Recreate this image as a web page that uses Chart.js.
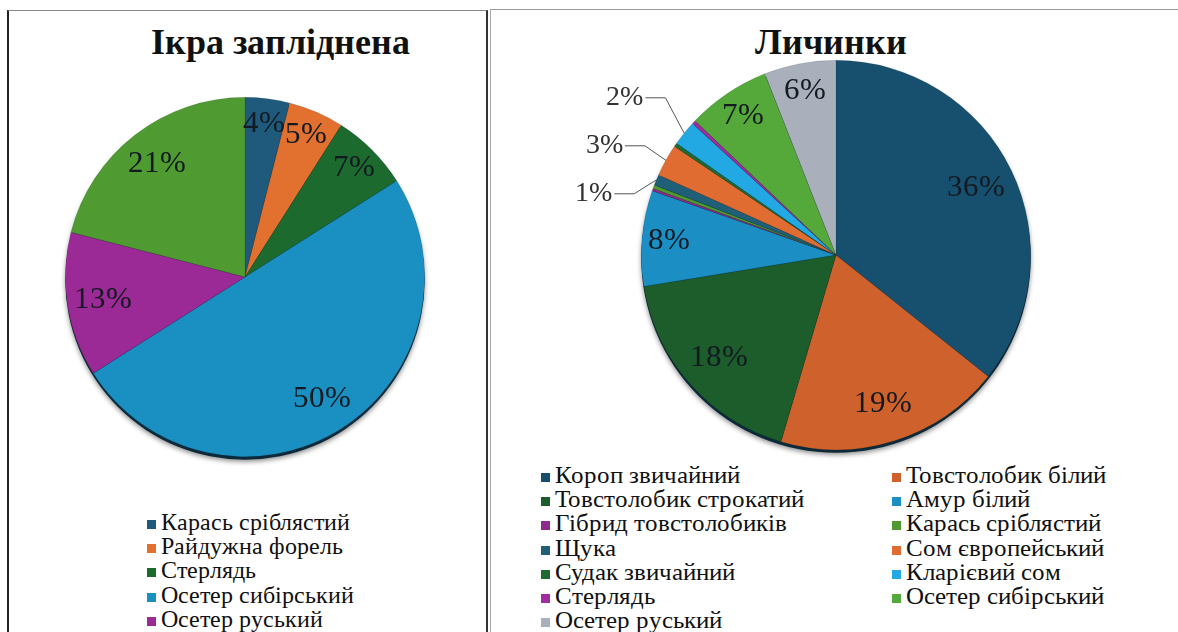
<!DOCTYPE html>
<html lang="uk">
<head>
    <meta charset="UTF-8">
    <title>Ікра запліднена / Личинки</title>
    <script src="https://cdn.jsdelivr.net/npm/chart.js"></script>
    <style>
        @font-face {
            font-family: "ChartSerif";
            src: local("Liberation Serif"), local("LiberationSerif"), local("LiberationSerif-Regular"), local("Times New Roman");
            font-weight: normal;
        }
        @font-face {
            font-family: "ChartSerif";
            src: local("Liberation Serif Bold"), local("LiberationSerif-Bold"), local("Times New Roman Bold");
            font-weight: bold;
        }
        body {
            margin: 0;
            width: 1178px;
            height: 632px;
            overflow: hidden;
            background: #fff;
            font-family: "ChartSerif", "Liberation Serif", "Times New Roman", serif;
        }
        .panel {
            position: absolute;
            height: 700px;
            box-sizing: border-box;
        }
        #panelLeft {
            left: 7px; top: 10px; width: 481px;
            border-top: 1px solid #888;
            border-left: 2px solid #222;
            border-right: 2px solid #333;
        }
        #panelRight {
            left: 490px; top: 9px; width: 700px;
            border-top: 1px solid #999;
            border-left: 1px solid #aaa;
        }
        .title {
            position: absolute;
            top: 20px;
            font-weight: bold;
            font-size: 36px;
            line-height: 44px;
            transform: translateX(-50%);
            white-space: nowrap;
            color: #111;
        }
        .chart-box { position: absolute; }
        .legend { position: absolute; color: #111; }
        .legend .item { line-height: 24.2px; white-space: nowrap; }
        .legend .box {
            display: inline-block;
            width: 9px; height: 9px;
            margin-right: 5px;
            vertical-align: 1px;
        }
        #legendLeft { font-size: 23.5px; }
        #legendRight {
            font-size: 24.5px;
            display: grid;
            grid-template-columns: 351px auto;
        }
    </style>
</head>
<body>
    <div class="panel" id="panelLeft"></div>
    <div class="panel" id="panelRight"></div>

    <div class="title" style="left:280px">Ікра запліднена</div>
    <div class="title" style="left:831px">Личинки</div>

    <div class="chart-box" style="left:8px; top:80px; width:480px; height:390px">
        <canvas id="roeChart"></canvas>
    </div>
    <div class="chart-box" style="left:492px; top:50px; width:686px; height:410px">
        <canvas id="larvaeChart"></canvas>
    </div>

    <div class="legend" id="legendLeft" style="left:147px; top:510px"></div>
    <div class="legend" id="legendRight" style="left:541px; top:463px"></div>

    <script>
        // Ікра запліднена (%), шостий підпис у легенді обрізано на рисунку
        const roeLabels = ['Карась сріблястий', 'Райдужна форель', 'Стерлядь', 'Осетер сибірський', 'Осетер руський', ''];
        const roeValues = [4, 5, 7, 50, 13, 21];
        const roeColors = ['#1f5a7c', '#e2702f', '#1d6a2f', '#1a8fc2', '#9b2a97', '#4f9b32'];

        // Личинки (%)
        const larvaeLabels = ['Короп звичайний', 'Товстолобик білий', 'Товстолобик строкатий', 'Амур білий',
            'Гібрид товстолобиків', 'Карась сріблястий', 'Щука', 'Сом європейський', 'Судак звичайний',
            'Кларієвий сом', 'Стерлядь', 'Осетер сибірський', 'Осетер руський'];
        const larvaeValues = [36, 19, 18, 8, 0.2, 0.3, 0.9, 2.7, 0.3, 2.1, 0.3, 7, 6];
        const larvaeColors = ['#17506e', '#cf622c', '#1d5c2b', '#1b8ec4', '#8f2b8e', '#4e9a30', '#1f5f78',
            '#e06c32', '#1e6b32', '#22a8e2', '#a02da0', '#55a83a', '#a9b0bb'];

        const FONT = '"ChartSerif", "Liberation Serif", "Times New Roman", serif';

        // тінь під кругом (імітація об'єму)
        const pieShadow = {
            id: 'pieShadow',
            beforeDatasetsDraw(chart) {
                const arc = chart.getDatasetMeta(0).data[0];
                if (!arc) return;
                const { x, y, outerRadius } = arc.getProps(['x', 'y', 'outerRadius'], true);
                const ctx = chart.ctx;
                ctx.save();
                ctx.shadowColor = 'rgba(0,0,0,0.45)';
                ctx.shadowBlur = 5;
                ctx.shadowOffsetY = 2;
                ctx.fillStyle = '#0c2a3a';
                ctx.beginPath();
                ctx.arc(x, y + 3, outerRadius, 0, Math.PI * 2);
                ctx.fill();
                ctx.restore();
            }
        };

        // підписи відсотків, малі частки винесено з виносками
        const percentLabels = {
            id: 'percentLabels',
            afterDatasetsDraw(chart) {
                const ctx = chart.ctx;
                const values = chart.data.datasets[0].data;
                const total = values.reduce((a, b) => a + b, 0);
                const callouts = [];
                ctx.save();
                ctx.textBaseline = 'middle';
                chart.getDatasetMeta(0).data.forEach((arc, i) => {
                    const pct = Math.round(values[i] / total * 100);
                    if (pct < 1) return;
                    const p = arc.getProps(['x', 'y', 'startAngle', 'endAngle', 'outerRadius'], true);
                    const mid = (p.startAngle + p.endAngle) / 2;
                    const cos = Math.cos(mid), sin = Math.sin(mid);
                    const r = p.outerRadius;
                    if (pct <= 3) {
                        callouts.push({
                            pct: pct,
                            x0: p.x + cos * r, y0: p.y + sin * r,
                            x1: p.x + cos * (r + 24), y1: p.y + sin * (r + 24)
                        });
                    } else {
                        const rr = r * (pct < 10 ? 0.86 : 0.8);
                        ctx.fillStyle = '#141a22';
                        ctx.font = '31px ' + FONT;
                        ctx.textAlign = 'center';
                        ctx.fillText(pct + '%', p.x + cos * rr, p.y + sin * rr);
                    }
                });

                // розсунути виноски по вертикалі
                callouts.sort((a, b) => a.y1 - b.y1);
                const gap = 48;
                for (let k = 0; k < 30; k++) {
                    for (let j = 0; j < callouts.length - 1; j++) {
                        const d = callouts[j + 1].y1 - callouts[j].y1;
                        if (d < gap) {
                            callouts[j].y1 -= (gap - d) / 2;
                            callouts[j + 1].y1 += (gap - d) / 2;
                        }
                    }
                }
                callouts.forEach(c => {
                    const x2 = c.x1 - 20;
                    ctx.strokeStyle = '#555';
                    ctx.lineWidth = 1;
                    ctx.beginPath();
                    ctx.moveTo(c.x0, c.y0);
                    ctx.lineTo(c.x1, c.y1);
                    ctx.lineTo(x2, c.y1);
                    ctx.stroke();
                    ctx.fillStyle = '#333';
                    ctx.font = '28px ' + FONT;
                    ctx.textAlign = 'right';
                    ctx.fillText(c.pct + '%', x2 - 2, c.y1);
                });
                ctx.restore();
            }
        };

        function makePie(id, labels, values, colors, padding) {
            return new Chart(document.getElementById(id), {
                type: 'pie',
                data: {
                    labels: labels,
                    datasets: [{
                        data: values,
                        backgroundColor: colors,
                        borderColor: 'rgba(0,0,0,0.18)',
                        borderWidth: 0.6
                    }]
                },
                options: {
                    responsive: true,
                    maintainAspectRatio: false,
                    animation: false,
                    layout: { padding: padding },
                    plugins: {
                        legend: { display: false },
                        title: { display: false },
                        tooltip: { enabled: false }
                    }
                },
                plugins: [pieShadow, percentLabels]
            });
        }

        function buildLegend(chart, el) {
            const colors = chart.data.datasets[0].backgroundColor;
            chart.data.labels.forEach((label, i) => {
                if (!label) return;
                const item = document.createElement('div');
                item.className = 'item';
                item.innerHTML = `<span class="box" style="background:${colors[i]}"></span>${label}`;
                el.appendChild(item);
            });
        }

        function draw() {
            const roeChart = makePie('roeChart', roeLabels, roeValues, roeColors,
                { left: 57, right: 63, top: 17, bottom: 13 });
            const larvaeChart = makePie('larvaeChart', larvaeLabels, larvaeValues, larvaeColors,
                { left: 148, right: 146, top: 10, bottom: 10 });

            buildLegend(roeChart, document.getElementById('legendLeft'));
            buildLegend(larvaeChart, document.getElementById('legendRight'));
        }

        // шрифт має бути готовий до малювання на canvas
        Promise.all([
            document.fonts.load('28px "ChartSerif"'),
            document.fonts.load('bold 36px "ChartSerif"')
        ]).catch(() => {}).then(draw);
    </script>
</body>
</html>
